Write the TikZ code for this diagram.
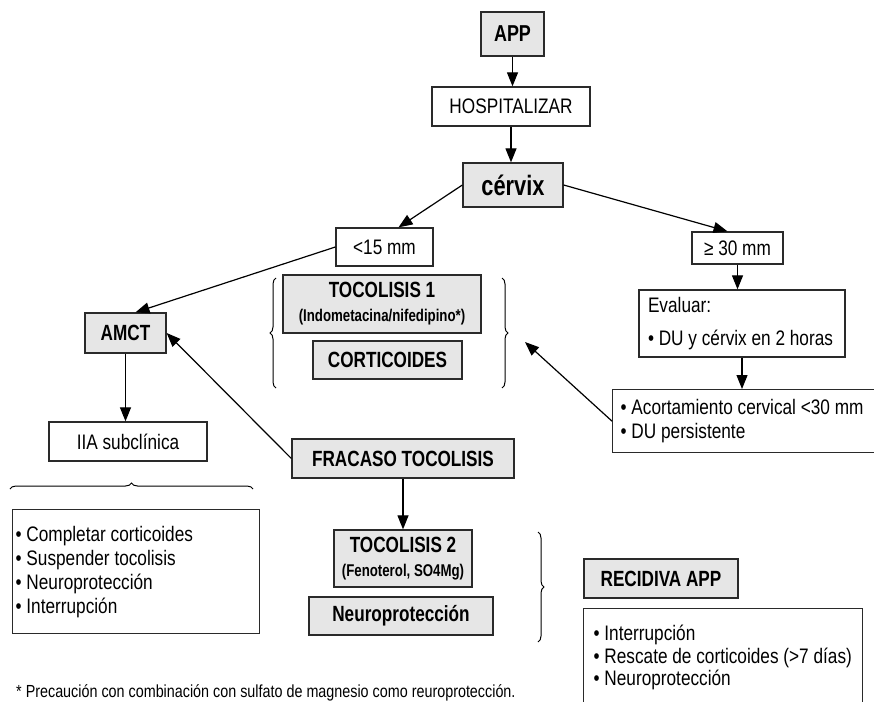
\documentclass[tikz,border=0pt]{standalone}
\usepackage{fontspec}
\setmainfont{Liberation Sans}[FakeStretch=0.82]
\newfontfamily\bdfam{Liberation Sans}[FakeStretch=0.78]
\usetikzlibrary{arrows.meta,decorations.pathreplacing,calc}
\definecolor{boxgray}{HTML}{E6E6E6}
\definecolor{edge}{HTML}{2A2A2A}
\begin{document}
\begin{tikzpicture}[x=1pt,y=-1pt,
  box/.style={draw=edge,line width=1.3pt,inner sep=0pt,align=center},
  gbox/.style={box,fill=boxgray},
  rg/.style={font=\fontsize{21}{24}\selectfont},
  bd/.style={font=\bdfam\bfseries\fontsize{22}{23}\selectfont},
  arr/.style={-{Triangle[length=14pt,width=11pt]},line width=1.2pt},
  brc/.style={decorate,decoration={brace,amplitude=6pt},line width=1pt}]
\useasboundingbox (0,0) rectangle (874,701);
\clip (0,0) rectangle (874,701);

\node[gbox,font=\bdfam\bfseries\fontsize{23}{25}\selectfont,minimum width=63pt,minimum height=44pt] (app) at (512.5,34) {APP};
\node[box,rg,minimum width=158pt,minimum height=39pt] (hosp) at (511,106.5) {HOSPITALIZAR};
\node[gbox,font=\bdfam\bfseries\fontsize{28}{30}\selectfont,minimum width=100pt,minimum height=44pt] (cervix) at (513,185) {cérvix};
\node[box,rg,minimum width=97pt,minimum height=38pt] (lt) at (384.5,247) {<15 mm};
\node[box,rg,minimum width=91pt,minimum height=32pt] (ge) at (737.5,248) {≥ 30 mm};
\node[gbox,bd,minimum width=198pt,minimum height=58pt] (toc1) at (382,304) {TOCOLISIS 1\\[1pt]{\fontsize{17}{18}\selectfont (Indometacina/nifedipino*)}};
\node[gbox,bd,minimum width=149pt,minimum height=38pt] (cort) at (387.5,360) {CORTICOIDES};
\node[gbox,bd,minimum width=81pt,minimum height=40pt] (amct) at (125.5,333) {AMCT};
\node[box,rg,minimum width=158pt,minimum height=39pt] (iia) at (128,441.5) {IIA subclínica};
\node[box,font=\fontsize{21}{33}\selectfont,minimum width=206pt,minimum height=67pt,text width=188pt,align=flush left] (eval) at (742,323.5) {\mbox{Evaluar:}\\\mbox{• DU y cérvix en 2 horas}};
\node[box,rg,anchor=north west,minimum width=300pt,minimum height=63pt,text width=284pt,align=flush left] (acort) at (612,389) {\mbox{• Acortamiento cervical <30 mm}\\\mbox{• DU persistente}};
\node[gbox,bd,minimum width=222pt,minimum height=39pt] (frac) at (403,458.5) {FRACASO TOCOLISIS};
\node[gbox,bd,minimum width=138pt,minimum height=57pt] (toc2) at (403,558.5) {TOCOLISIS 2\\[1pt]{\fontsize{17}{18}\selectfont (Fenoterol, SO4Mg)}};
\node[gbox,bd,minimum width=184pt,minimum height=38pt] (neuro) at (401,616) {Neuroprotección};
\node[box,rg,anchor=north west,minimum width=247pt,minimum height=124pt,text width=241pt,align=flush left] (llist) at (12,509) {\mbox{• Completar corticoides}\\\mbox{• Suspender tocolisis}\\\mbox{• Neuroprotección}\\\mbox{• Interrupción}};
\node[gbox,bd,minimum width=154pt,minimum height=39pt] (recid) at (661,578.5) {RECIDIVA APP};
\node[box,font=\fontsize{21}{22.5}\selectfont,anchor=north west,minimum width=279pt,minimum height=98pt,text width=259pt,align=flush left] (rlist) at (583,608) {\mbox{• Interrupción}\\\mbox{• Rescate de corticoides (>7 días)}\\\mbox{• Neuroprotección}};
\node[anchor=west,inner sep=0pt,font=\fontsize{17.5}{19}\selectfont] (foot) at (16,693) {* Precaución con combinación con sulfato de magnesio como reuroprotección.};

\draw[arr] (app.south) -- (app.south |- hosp.north);
\draw[arr] (hosp.south) -- (hosp.south |- cervix.north);
\draw[arr] (cervix.west) -- ([xshift=14pt]lt.north);
\draw[arr] (cervix.east) -- ([xshift=-10pt]ge.north);
\draw[arr] (ge.south) -- (ge.south |- eval.north);
\draw[arr] (eval.south) -- (eval.south |- acort.north);
\draw[arr] (lt.west) -- ([xshift=10pt]amct.north);
\draw[arr] (amct.south) -- (amct.south |- iia.north);
\draw[arr] (frac.west) -- (amct.east);
\draw[arr] (frac.south) -- (frac.south |- toc2.north);
\coordinate (rb) at (525,342);
\draw[arr] (acort.west) -- (rb);

\draw[brc] (276,388) -- (276,278);
\draw[brc] (502,278) -- (502,388);
\draw[brc] (538,532) -- (538,642);
\draw[brc] (10,489) -- (253,489);
\end{tikzpicture}
\end{document}
